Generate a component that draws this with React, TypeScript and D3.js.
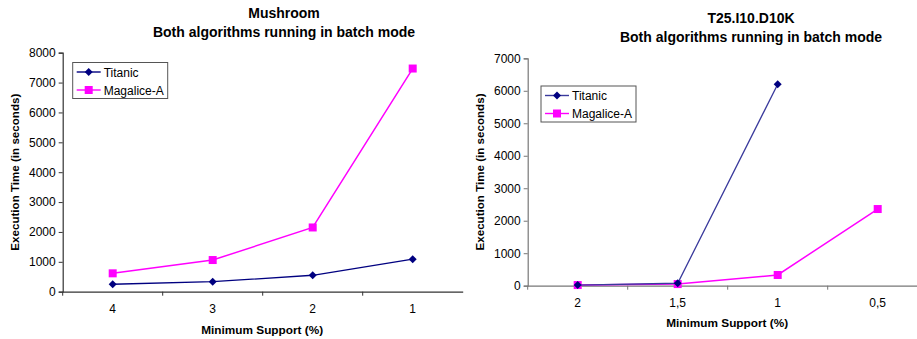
import { useEffect, useRef } from "react"
import * as d3 from "d3"

// Mushroom data set
const mushroomSupport = ["4", "3", "2", "1"]
const mushroomTitanic = [250, 335, 550, 1090]
const mushroomMagalice = [615, 1060, 2150, 7470]
const mushroomTicks = [0, 1000, 2000, 3000, 4000, 5000, 6000, 7000, 8000]

// T25.I10.D10K data set
const t25Support = ["2", "1,5", "1", "0,5"]
const t25Titanic = [20, 75, 6200]
const t25Magalice = [20, 50, 330, 2360]
const t25Ticks = [0, 1000, 2000, 3000, 4000, 5000, 6000, 7000]

const seriesNames = ["Titanic", "Magalice-A"]

const FONT = "'Liberation Sans', Arial, sans-serif"

type ChartProps = {
  left: number
  top: number
  plotW: number
  plotH: number
  title: string[]
  titleX: number
  titleY: number
  categories: string[]
  titanic: number[]
  magalice: number[]
  ticks: number[]
  legendX: number
  legendY: number
  titanicColor: string
  axisColor: string
  xTitleDy: number
}

function drawChart(root: d3.Selection<SVGGElement, unknown, null, undefined>, p: ChartProps) {
  const g = root.append("g").attr("transform", `translate(${p.left},${p.top})`)

  const x = d3.scaleBand().domain(p.categories).range([0, p.plotW])
  const y = d3
    .scaleLinear()
    .domain([0, d3.max(p.ticks) as number])
    .range([p.plotH, 0])

  // Title
  root
    .append("text")
    .attr("x", p.titleX)
    .attr("y", p.titleY)
    .attr("text-anchor", "middle")
    .attr("font-family", FONT)
    .attr("font-weight", "bold")
    .attr("font-size", 14)
    .selectAll("tspan")
    .data(p.title)
    .join("tspan")
    .attr("x", p.titleX)
    .attr("dy", (_, i) => (i === 0 ? 0 : 18.5))
    .text((d) => d)

  // Y axis
  const yAxis = g
    .append("g")
    .call(
      d3
        .axisLeft(y)
        .tickValues(p.ticks)
        .tickFormat(d3.format("d"))
        .tickSize(4)
        .tickPadding(3)
    )
  yAxis.select(".domain").attr("stroke", p.axisColor).attr("stroke-width", 1.2)
  yAxis.selectAll(".tick line").attr("stroke", p.axisColor)
  yAxis
    .selectAll("text")
    .attr("font-family", FONT)
    .attr("font-size", 12)
    .attr("fill", "#000")

  // X axis
  const xAxis = g
    .append("g")
    .attr("transform", `translate(0,${p.plotH})`)
    .call(d3.axisBottom(x).tickSize(0).tickSizeOuter(0))
  xAxis.select(".domain").attr("stroke", p.axisColor).attr("stroke-width", 1.2)
  xAxis.selectAll(".tick line").remove()
  xAxis
    .selectAll("text")
    .attr("font-family", FONT)
    .attr("font-size", 12)
    .attr("fill", "#000")
    .attr("dy", 0)
    .attr("y", 21.5)

  // Category separator ticks
  g.append("g")
    .selectAll("line")
    .data(p.categories)
    .join("line")
    .attr("x1", (d) => x(d) as number)
    .attr("x2", (d) => x(d) as number)
    .attr("y1", p.plotH)
    .attr("y2", p.plotH + 4)
    .attr("stroke", p.axisColor)

  // Axis titles
  g.append("text")
    .attr("x", p.plotW / 2 - 0.5)
    .attr("y", p.plotH + p.xTitleDy)
    .attr("text-anchor", "middle")
    .attr("font-family", FONT)
    .attr("font-weight", "bold")
    .attr("font-size", 11.8)
    .text("Minimum Support (%)")

  g.append("text")
    .attr("transform", `translate(${-43.5},${p.plotH / 2}) rotate(-90)`)
    .attr("text-anchor", "middle")
    .attr("font-family", FONT)
    .attr("font-weight", "bold")
    .attr("font-size", 11.6)
    .text("Execution Time (in seconds)")

  const cx = (i: number) => (x(p.categories[i]) as number) + x.bandwidth() / 2

  const line = d3
    .line<number>()
    .x((_, i) => cx(i))
    .y((d) => y(d))

  // Magalice-A
  g.append("path")
    .datum(p.magalice)
    .attr("fill", "none")
    .attr("stroke", "#ff00ff")
    .attr("stroke-width", 1.5)
    .attr("d", line)
  g.append("g")
    .selectAll("rect")
    .data(p.magalice)
    .join("rect")
    .attr("x", (_, i) => cx(i) - 4)
    .attr("y", (d) => y(d) - 4)
    .attr("width", 8)
    .attr("height", 8)
    .attr("fill", "#ff00ff")

  // Titanic
  g.append("path")
    .datum(p.titanic)
    .attr("fill", "none")
    .attr("stroke", p.titanicColor)
    .attr("stroke-width", 1.3)
    .attr("d", line)
  g.append("g")
    .selectAll("path")
    .data(p.titanic)
    .join("path")
    .attr("d", (d, i) => `M${cx(i)},${y(d) - 4}l4,4l-4,4l-4,-4z`)
    .attr("fill", "#000080")

  // Legend
  const lg = root.append("g").attr("transform", `translate(${p.legendX},${p.legendY})`)
  lg.append("rect")
    .attr("width", 95)
    .attr("height", 36)
    .attr("fill", "#fff")
    .attr("stroke", "#555")
    .attr("stroke-width", 1)
  const colors = [p.titanicColor, "#ff00ff"]
  seriesNames.forEach((name, i) => {
    const ly = 9.5 + i * 18
    lg.append("line")
      .attr("x1", 4)
      .attr("x2", 28)
      .attr("y1", ly)
      .attr("y2", ly)
      .attr("stroke", colors[i])
      .attr("stroke-width", 1.4)
    if (i === 0) {
      lg.append("path").attr("d", `M16,${ly - 4}l4,4l-4,4l-4,-4z`).attr("fill", "#000080")
    } else {
      lg.append("rect")
        .attr("x", 12)
        .attr("y", ly - 4)
        .attr("width", 8)
        .attr("height", 8)
        .attr("fill", "#ff00ff")
    }
    lg.append("text")
      .attr("x", 31)
      .attr("y", ly + 4.5)
      .attr("font-family", FONT)
      .attr("font-size", 12)
      .text(name)
  })
}

export default function App() {
  const ref = useRef<SVGSVGElement>(null)

  useEffect(() => {
    if (!ref.current) return
    const svg = d3.select(ref.current)
    svg.selectAll("*").remove()
    const root = svg.append("g") as unknown as d3.Selection<SVGGElement, unknown, null, undefined>

    drawChart(root, {
      left: 62.7,
      top: 52.7,
      plotW: 400,
      plotH: 239,
      title: ["Mushroom", "Both algorithms running in batch mode"],
      titleX: 284,
      titleY: 18,
      categories: mushroomSupport,
      titanic: mushroomTitanic,
      magalice: mushroomMagalice,
      ticks: mushroomTicks,
      legendX: 72.7,
      legendY: 62.5,
      titanicColor: "#000080",
      axisColor: "#333",
      xTitleDy: 42.5,
    })

    drawChart(root, {
      left: 527.7,
      top: 58.3,
      plotW: 400,
      plotH: 227.4,
      title: ["T25.I10.D10K", "Both algorithms running in batch mode"],
      titleX: 751,
      titleY: 23,
      categories: t25Support,
      titanic: t25Titanic,
      magalice: t25Magalice,
      ticks: t25Ticks,
      legendX: 541,
      legendY: 86,
      titanicColor: "#3a3a9c",
      axisColor: "#777",
      xTitleDy: 41.5,
    })
  }, [])

  return (
    <svg
      ref={ref}
      width={917}
      height={339}
      style={{ position: "absolute", left: 0, top: 0, background: "#fff" }}
    />
  )
}
